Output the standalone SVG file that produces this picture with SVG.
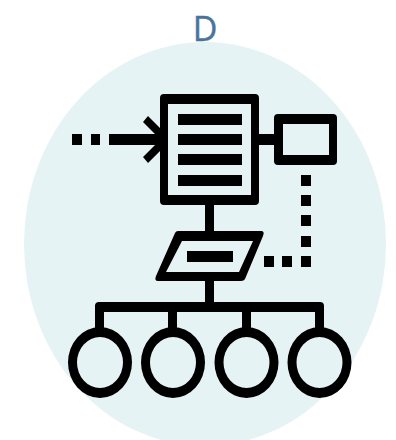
<svg xmlns="http://www.w3.org/2000/svg" width="396" height="440" viewBox="0 0 396 440">
<style>
.k{fill:#000}
.e{fill:#000;fill-rule:evenodd}
.t{font-family:"Open Sans","Noto Sans",sans-serif;font-size:34px;fill:#4a739c;stroke:#4a739c;stroke-width:.4;text-anchor:middle}
</style>
<defs>
<path id="ring" class="e" d="M-32 0A32 35.5 0 1 1 32 0A32 35.5 0 1 1 -32 0ZM-23 0A23 25.5 0 1 0 23 0A23 25.5 0 1 0 -23 0Z"/>
</defs>
<ellipse id="background" cx="205" cy="244" rx="181" ry="202" fill="#e5f3f5"/>
<text id="title" class="t" x="205" y="41">D</text>
<g id="connectors" class="k">
<rect x="72" y="134" width="10" height="11"/>
<rect x="91" y="134" width="9" height="11"/>
<rect x="109" y="134" width="52" height="11"/>
<path d="M143 122L148 116L162 130V149L148 163L143 157L156 144V135Z"/>
<rect x="259" y="134" width="16" height="11"/>
<rect x="301" y="175" width="10" height="11"/>
<rect x="301" y="195" width="10" height="11"/>
<rect x="301" y="215" width="10" height="11"/>
<rect x="301" y="236" width="10" height="11"/>
<rect x="301" y="256" width="10" height="11"/>
<rect x="282" y="256" width="10" height="11"/>
<rect x="264" y="256" width="10" height="11"/>
<rect x="205" y="204" width="9" height="28"/>
<rect x="205" y="280" width="9" height="23"/>
<path d="M99 302H320Q324 302 324 306V312H99Q95 312 95 306Q95 302 99 302Z"/>
<rect x="95" y="305" width="9" height="24"/>
<rect x="168" y="310" width="9" height="19"/>
<rect x="242" y="310" width="9" height="19"/>
<rect x="315" y="310" width="9" height="19"/>
</g>
<g id="document">
<path class="e" d="M164 94H255Q259 94 259 98V201Q259 205 255 205H164Q160 205 160 201V98Q160 94 164 94ZM168 104V195H251V104Z"/>
<rect class="k" x="178" y="114" width="64" height="11"/>
<rect class="k" x="178" y="134" width="64" height="11"/>
<rect class="k" x="178" y="154" width="64" height="11"/>
<rect class="k" x="178" y="175" width="64" height="11"/>
</g>
<g id="output">
<path class="e" d="M278 114H333Q337 114 337 118V161Q337 165 333 165H278Q274 165 274 161V118Q274 114 278 114ZM283 124V155H329V124Z"/>
</g>
<g id="gate">
<path class="e" d="M178 231H261Q265 231 263 236L245 279Q244 281 241 281H158Q154 281 156 276L175 233Q176 231 178 231ZM182 241L166 272H239L253 241Z"/>
<rect class="k" x="187" y="251" width="46" height="11"/>
</g>
<use id="node-1" href="#ring" x="100" y="362.5"/>
<use id="node-2" href="#ring" x="173" y="362.5"/>
<use id="node-3" href="#ring" x="246.5" y="362.5"/>
<use id="node-4" href="#ring" x="319.5" y="362.5"/>
</svg>
